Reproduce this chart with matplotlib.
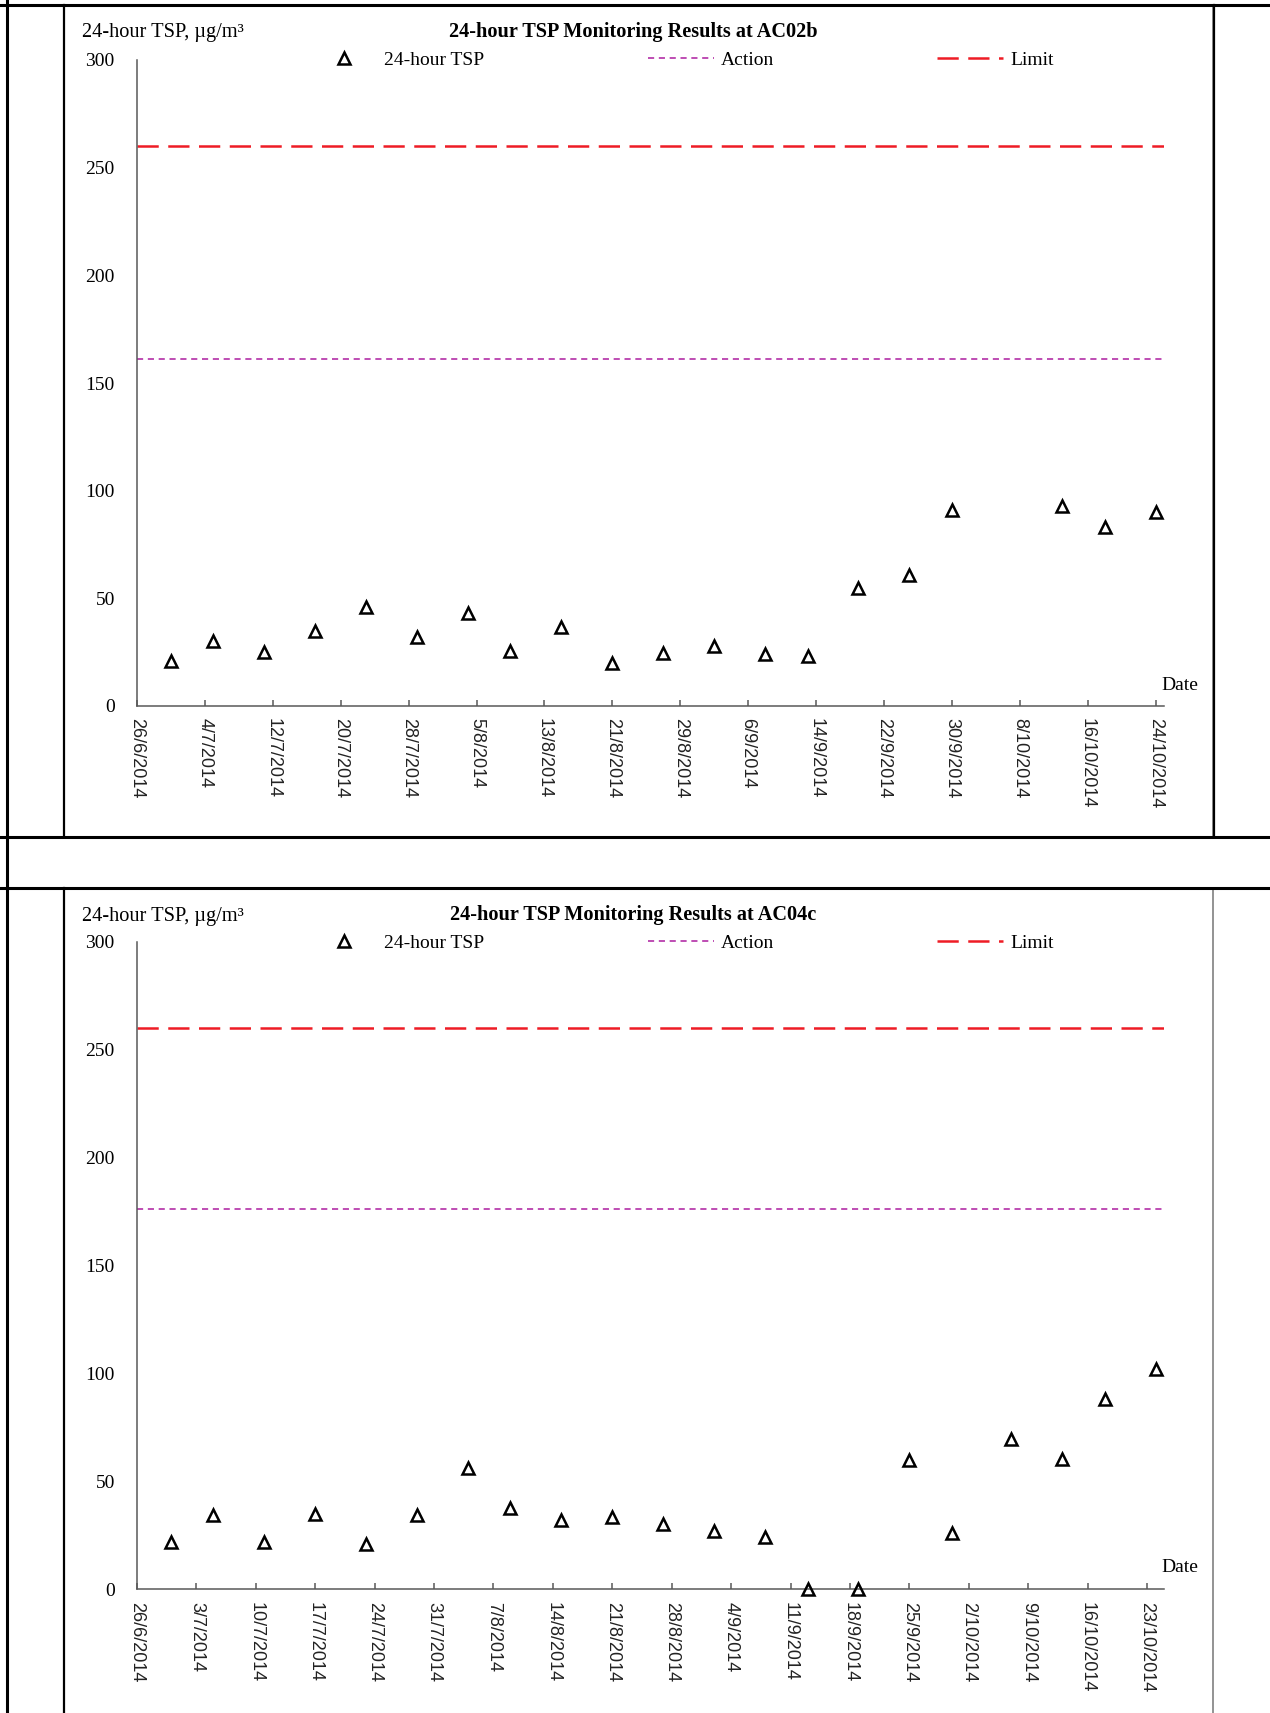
import matplotlib
matplotlib.use('Agg')
import matplotlib.pyplot as plt
from matplotlib.lines import Line2D
from matplotlib.patches import Rectangle
from matplotlib.ticker import FixedLocator
import datetime as dt

# ---------------- data ----------------
top_title = '24-hour TSP Monitoring Results at AC02b'
top_dates = ['30/6/2014', '5/7/2014', '11/7/2014', '17/7/2014', '23/7/2014', '29/7/2014',
             '4/8/2014', '9/8/2014', '15/8/2014', '21/8/2014', '27/8/2014', '2/9/2014',
             '8/9/2014', '13/9/2014', '19/9/2014', '25/9/2014', '30/9/2014', '13/10/2014',
             '18/10/2014', '24/10/2014']
top_tsp = [21, 30, 25, 35, 46, 32, 43, 25.5, 36.5, 20, 24.5, 28, 24, 23, 55, 61, 91, 93, 83, 90]
top_action = 161
top_limit = 260
top_ticks = ['26/6/2014', '4/7/2014', '12/7/2014', '20/7/2014', '28/7/2014', '5/8/2014',
             '13/8/2014', '21/8/2014', '29/8/2014', '6/9/2014', '14/9/2014', '22/9/2014',
             '30/9/2014', '8/10/2014', '16/10/2014', '24/10/2014']

bot_title = '24-hour TSP Monitoring Results at AC04c'
bot_dates = ['30/6/2014', '5/7/2014', '11/7/2014', '17/7/2014', '23/7/2014', '29/7/2014',
             '4/8/2014', '9/8/2014', '15/8/2014', '21/8/2014', '27/8/2014', '2/9/2014',
             '8/9/2014', '13/9/2014', '19/9/2014', '25/9/2014', '30/9/2014', '7/10/2014',
             '13/10/2014', '18/10/2014', '24/10/2014']
bot_tsp = [22, 34.5, 22, 35, 21, 34.5, 56, 37.5, 32, 33.5, 30, 27, 24, 0, 0, 60, 26, 69.5,
           60.5, 88, 102]
bot_action = 176
bot_limit = 260
bot_ticks = ['26/6/2014', '3/7/2014', '10/7/2014', '17/7/2014', '24/7/2014', '31/7/2014',
             '7/8/2014', '14/8/2014', '21/8/2014', '28/8/2014', '4/9/2014', '11/9/2014',
             '18/9/2014', '25/9/2014', '2/10/2014', '9/10/2014', '16/10/2014', '23/10/2014']

x_start = '26/6/2014'
x_end = '25/10/2014'
y_ticks = [0, 50, 100, 150, 200, 250, 300]
y_label = '24-hour TSP, \u00b5g/m\u00b3'
series_name = '24-hour TSP'

# ---------------- style ----------------
W, H = 1270, 1713
SERIF = 'Liberation Serif'
SANS = 'Liberation Sans'
SPINE = '#595959'
ACTION_C = '#B93FAE'
LIMIT_C = '#EE1C25'


def d(s):
    return dt.datetime.strptime(s, '%d/%m/%Y')


def fx(x):
    return x / W


def fy(y):
    return 1 - y / H


fig = plt.figure(figsize=(W / 100, H / 100), dpi=100)
fig.patch.set_facecolor('white')


def fline(x0, y0, x1, y1, color='black', lw=2.2):
    fig.add_artist(Line2D([fx(x0), fx(x1)], [fy(y0), fy(y1)], color=color, lw=lw,
                          transform=fig.transFigure))


# gray chart boxes
fig.add_artist(Rectangle((fx(64), fy(837)), fx(1213) - fx(64), fy(6) - fy(837),
                         transform=fig.transFigure, fill=False, ec='#808080', lw=1.2))
fig.add_artist(Rectangle((fx(64), fy(1720)), fx(1213) - fx(64), fy(889) - fy(1720),
                         transform=fig.transFigure, fill=False, ec='#808080', lw=1.2))
# black table lines
fline(0, 5, W, 5)
fline(7, 0, 7, H)
fline(0, 837, W, 837)
fline(0, 888, W, 888)
fline(64, 5, 64, 837, lw=1.6)
fline(64, 888, 64, H, lw=1.6)
fline(1214, 5, 1214, 837, lw=1.6)


def make_chart(ax_rect, title, dates, vals, action, limit, ticks, ytop):
    ax = fig.add_axes(ax_rect)
    xd = [d(s) for s in dates]
    ax.plot(xd, vals, linestyle='none', marker='^', ms=9, mfc='none', mec='black',
            mew=1.8, clip_on=False, zorder=5, label=series_name)
    ax.axhline(action, color=ACTION_C, lw=1.3, ls=(0, (3.4, 2.6)), label='Action')
    ax.axhline(limit, color=LIMIT_C, lw=1.8, ls=(0, (8.5, 3.8)), label='Limit')

    ax.set_xlim(d(x_start), d(x_end))
    ax.set_ylim(0, 300)
    for s in ['top', 'right']:
        ax.spines[s].set_visible(False)
    for s in ['left', 'bottom']:
        ax.spines[s].set_color(SPINE)
        ax.spines[s].set_linewidth(1.1)

    ax.set_yticks(y_ticks)
    ax.set_yticklabels([str(v) for v in y_ticks], fontfamily=SERIF, fontsize=14)
    ax.tick_params(axis='y', which='major', length=0, pad=16)
    ax.yaxis.set_minor_locator(FixedLocator([300]))
    ax.tick_params(axis='y', which='minor', direction='in', length=4.5, width=1.1, color=SPINE)

    ax.set_xticks([d(s) for s in ticks])
    ax.set_xticklabels(ticks, rotation=-90, ha='center', va='top', fontfamily=SANS,
                       fontsize=13, color='#222222')
    ax.tick_params(axis='x', direction='in', length=4.5, width=1.1, color=SPINE, pad=9)

    h, l = ax.get_legend_handles_labels()
    ax.legend(h, l, loc='center left', bbox_to_anchor=(fx(311), fy(ytop)),
              bbox_transform=fig.transFigure, ncol=3, frameon=False,
              prop={'family': SERIF, 'size': 14}, handlelength=3.4, handletextpad=0.36,
              columnspacing=8.4, borderpad=0, borderaxespad=0, numpoints=1)

    fig.text(fx(82), fy(ytop - 27), y_label, ha='left', va='center', fontfamily=SERIF,
             fontsize=14.7)
    fig.text(fx(633), fy(ytop - 28), title, ha='center', va='center', fontfamily=SERIF,
             fontsize=14.6, fontweight='bold')
    return ax


ax1 = make_chart([fx(137), fy(706), fx(1164) - fx(137), fy(60) - fy(706)],
                 top_title, top_dates, top_tsp, top_action, top_limit, top_ticks, 60)
fig.text(fx(1161), fy(685), 'Date', ha='left', va='center', fontfamily=SERIF, fontsize=14)

ax2 = make_chart([fx(137), fy(1589), fx(1164) - fx(137), fy(942) - fy(1589)],
                 bot_title, bot_dates, bot_tsp, bot_action, bot_limit, bot_ticks, 943)
fig.text(fx(1161), fy(1568), 'Date', ha='left', va='center', fontfamily=SERIF, fontsize=14)

fig.savefig('out.png', dpi=100)
